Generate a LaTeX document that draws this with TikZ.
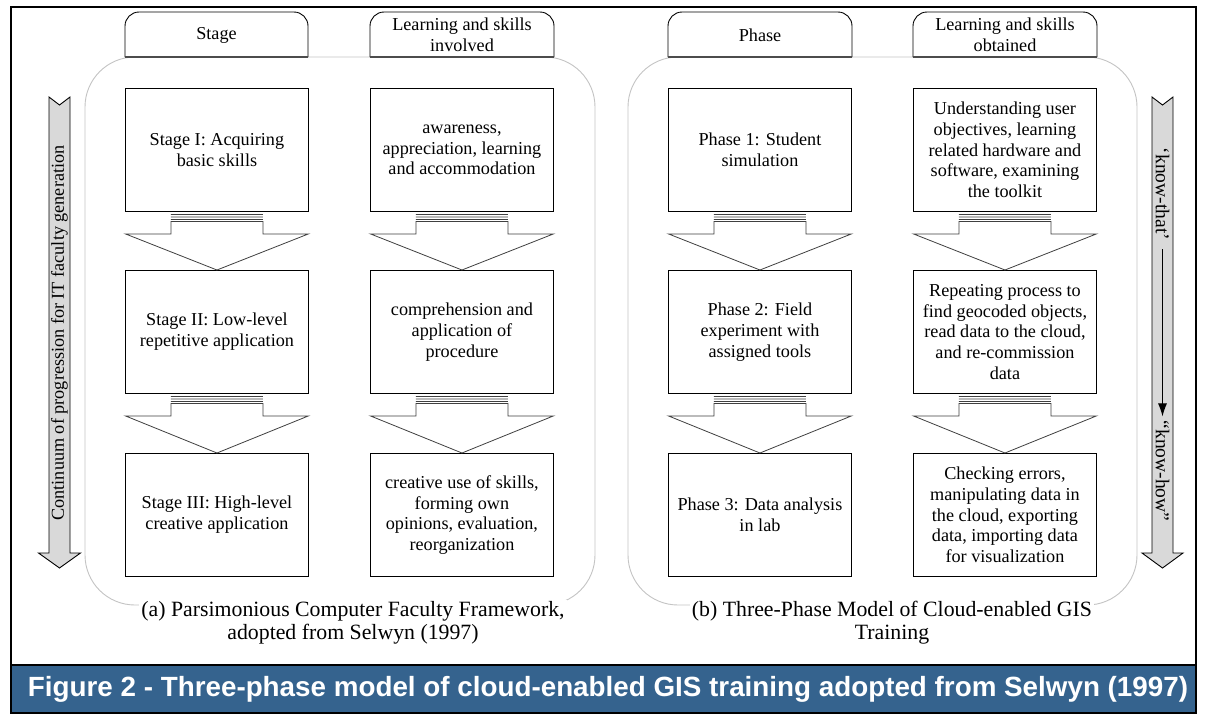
\documentclass[tikz,border=0pt]{standalone}
\usepackage{fontspec}
\setmainfont{Liberation Serif}
\newfontfamily\capfont{Liberation Sans}
\usetikzlibrary{arrows.meta,calc}
\definecolor{bandblue}{RGB}{53,99,142}
\definecolor{arrowgray}{RGB}{217,217,217}
\definecolor{bggray}{RGB}{196,196,196}
\newcommand\blockconn[2]{%
  \path let \p1=(#1.south), \p2=(#2.north) in
    [draw=black, fill=white, line width=0.9pt]
      (\x1-46pt,\y1-9.5pt) -- (\x1-46pt,\y1-22pt) -- (\x1-91.5pt,\y1-22pt) -- (\x2,\y2)
      -- (\x1+91.5pt,\y1-22pt) -- (\x1+46pt,\y1-22pt) -- (\x1+46pt,\y1-9.5pt) -- cycle
    [draw=black!75, line width=0.8pt]
      (\x1-46pt,\y1-2.5pt) -- (\x1+46pt,\y1-2.5pt)
      (\x1-46pt,\y1-5pt) -- (\x1+46pt,\y1-5pt)
      (\x1-46pt,\y1-7.5pt) -- (\x1+46pt,\y1-7.5pt);}
\newcommand\tabshape[2]{%
  \path[draw=black, fill=white, line width=0.9pt, rounded corners=14pt]
    (#1,57) -- (#1,12) -- (#2,12) -- (#2,57);
  \draw[line width=2pt, black!70] (#1,57) -- (#2,57);}
\begin{document}
\begin{tikzpicture}[x=1pt,y=-1pt,
  txt/.style={font=\fontsize{18.2}{20.7}\selectfont, align=center, inner sep=0pt},
  box/.style={txt, draw, fill=white, line width=0.9pt, minimum width=183pt, minimum height=123pt, anchor=north west},
  bgframe/.style={draw=bggray, line width=0.9pt, rounded corners=50pt},
  bigarrow/.style={draw=black, fill=arrowgray, line width=0.9pt},
  caption/.style={font=\fontsize{21.8}{23}\selectfont, align=center, fill=white, inner sep=2pt}]
\useasboundingbox (0,0) rectangle (1206,713);
\fill[white] (0,0) rectangle (1206,713);
% caption band and frame
\fill[bandblue] (11,665) rectangle (1196,713);
\draw[line width=2.4pt] (11,7) rectangle (1196,713);
\draw[line width=2.4pt] (11,665) -- (1196,665);
\node[font=\capfont\bfseries\fontsize{27.8}{32}\selectfont, text=white] (fig) at (608,689)
  {Figure 2 - Three-phase model of cloud-enabled GIS training adopted from Selwyn (1997)};
% background rounded frames
\draw[bgframe] (85,57) rectangle (595,605);
\draw[bgframe] (628,57) rectangle (1137,605);
% tabs
\tabshape{125}{308}
\tabshape{370}{554}
\tabshape{668}{852}
\tabshape{913}{1097}
\node[txt] (h1) at (216.5,35) {Stage};
\node[txt] (h2) at (462,35) {Learning and skills\\involved};
\node[txt] (h3) at (760,35) {Phase};
\node[txt] (h4) at (1005,35) {Learning and skills\\obtained};
% boxes
\node[box] (a1) at (125,88) {Stage I: Acquiring\\basic skills};
\node[box] (a2) at (125,270) {Stage II: Low-level\\repetitive application};
\node[box] (a3) at (125,453) {Stage III: High-level\\creative application};
\node[box] (b1) at (370,88) {awareness,\\appreciation, learning\\and accommodation};
\node[box] (b2) at (370,270) {comprehension and\\application of\\procedure};
\node[box] (b3) at (370,453) {creative use of skills,\\forming own\\opinions, evaluation,\\reorganization};
\node[box] (c1) at (668,88) {Phase 1: Student\\simulation};
\node[box] (c2) at (668,270) {Phase 2: Field\\experiment with\\assigned tools};
\node[box] (c3) at (668,453) {Phase 3: Data analysis\\in lab};
\node[box] (d1) at (913,88) {Understanding user\\objectives, learning\\related hardware and\\software, examining\\the toolkit};
\node[box] (d2) at (913,270) {Repeating process to\\find geocoded objects,\\read data to the cloud,\\and re-commission\\data};
\node[box] (d3) at (913,453) {Checking errors,\\manipulating data in\\the cloud, exporting\\data, importing data\\for visualization};
% block connectors
\blockconn{a1}{a2}
\blockconn{a2}{a3}
\blockconn{b1}{b2}
\blockconn{b2}{b3}
\blockconn{c1}{c2}
\blockconn{c2}{c3}
\blockconn{d1}{d2}
\blockconn{d2}{d3}
% captions
\node[caption] (capa) at (353,623) {(a) Parsimonious Computer Faculty Framework,\\adopted from Selwyn (1997)};
\node[caption] (capb) at (892,623) {(b) Three-Phase Model of Cloud-enabled GIS\\Training};
% side arrows
\path[bigarrow] (49,97) -- (59.5,105) -- (70,97) -- (70,553) -- (80.5,553) -- (59.5,568)
  -- (38.5,553) -- (49,553) -- cycle;
\node[txt, rotate=90] (cont) at (59.5,333) {Continuum of progression for IT faculty generation};
\path[bigarrow] (1152,97) -- (1162.5,105) -- (1173,97) -- (1173,553) -- (1183,553) -- (1162.5,568)
  -- (1142,553) -- (1152,553) -- cycle;
\node[txt, rotate=-90, inner sep=9pt, font=\fontsize{19.5}{22}\selectfont] (kt) at (1162.5,194) {‘know-that’};
\node[txt, rotate=-90, inner sep=4pt, font=\fontsize{19.5}{22}\selectfont] (kh) at (1162.5,471) {“know-how”};
\draw[line width=1pt, -{Latex[length=13pt,width=9pt]}] (kt.east) -- (kh.west);
\end{tikzpicture}
\end{document}
